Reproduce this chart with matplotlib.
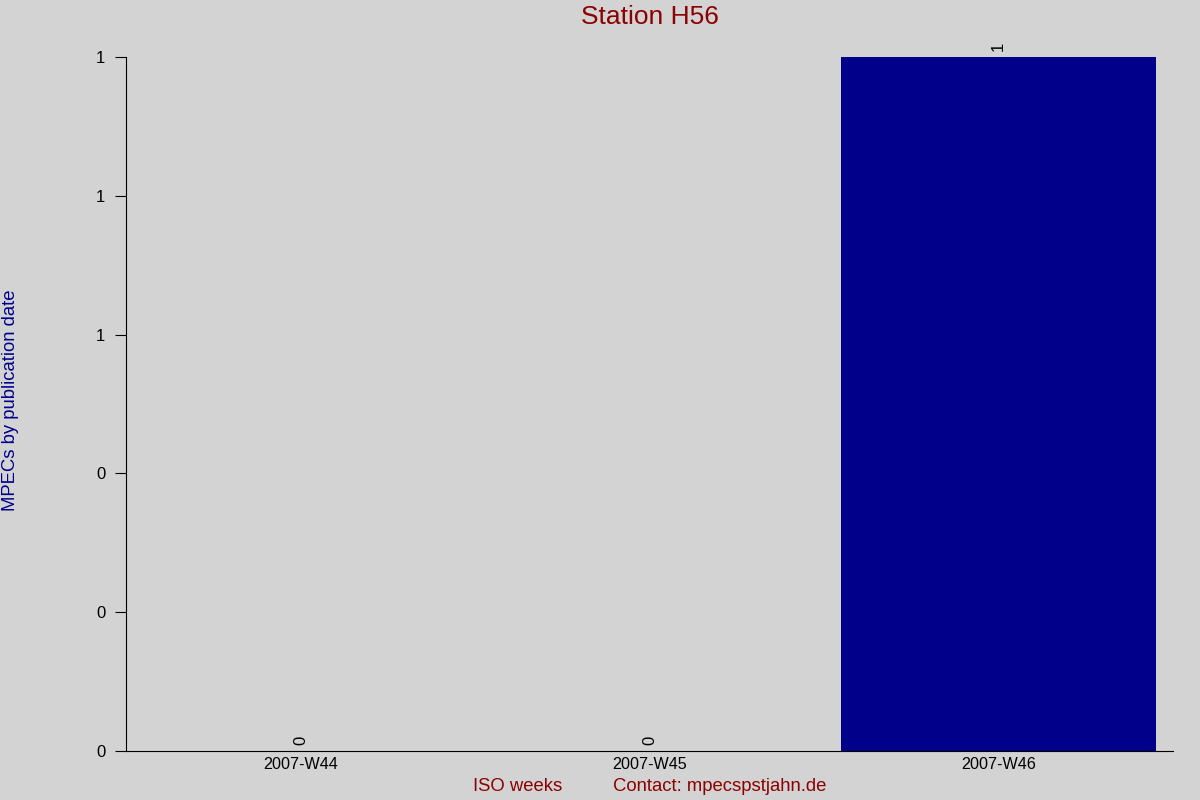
import matplotlib
matplotlib.use('Agg')
import matplotlib.pyplot as plt
from matplotlib.ticker import FormatStrFormatter

weeks = ['2007-W44', '2007-W45', '2007-W46']
mpecs = [0, 0, 1]
y_ticks = [0, 0.2, 0.4, 0.6, 0.8, 1.0]

plt.rcParams['font.family'] = ['Liberation Sans', 'DejaVu Sans']
bg = '#d3d3d3'

fig = plt.figure(figsize=(12, 8), dpi=100, facecolor=bg)
ax = fig.add_axes([0.105, 0.06125, 0.8725, 0.8675], facecolor=bg)

x = range(len(weeks))
bars = ax.bar(x, mpecs, width=0.9, color='#00008b')
for xi, v in zip(x, mpecs):
    ax.annotate(f'{v}', (xi, v), xytext=(0, 4), textcoords='offset points',
                rotation=90, ha='center', va='bottom', fontsize=12,
                color='black', annotation_clip=False)

ax.set_xlim(-0.5, len(weeks) - 0.5)
ax.set_ylim(0, 1)
ax.set_xticks(list(x))
ax.set_xticklabels(weeks, fontsize=11.6)
ax.set_yticks(y_ticks)
ax.yaxis.set_major_formatter(FormatStrFormatter('%.0f'))
ax.tick_params(axis='y', length=8, labelsize=12, pad=7)
ax.tick_params(axis='x', length=0, pad=4)

for side in ['top', 'right']:
    ax.spines[side].set_visible(False)

ax.set_title('Station H56', color='#8b0000', fontsize=19, pad=24)
fig.text(0.009, 0.5, 'MPECs by publication date', rotation=90, color='#00008b',
         fontsize=13.3, ha='center', va='center')
fig.text(0.431, 0.017, 'ISO weeks', color='#8b0000', fontsize=13.3, ha='center', va='center')
fig.text(0.511, 0.017, 'Contact: mpecspstjahn.de', color='#8b0000', fontsize=13.3,
         ha='left', va='center')

fig.savefig('out.png', dpi=100, facecolor=bg)
